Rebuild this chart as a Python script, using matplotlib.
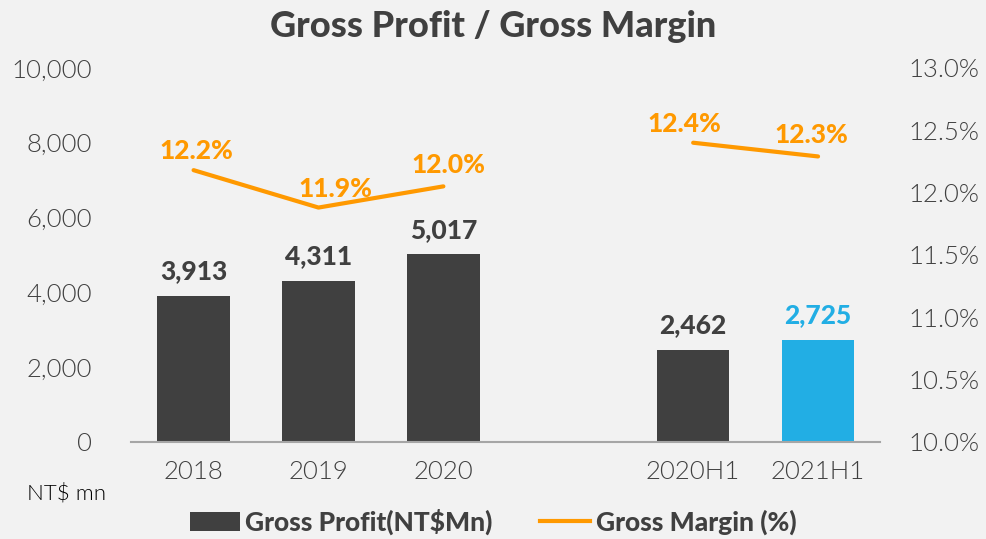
import numpy as np
import matplotlib
matplotlib.use('Agg')
from matplotlib import pyplot as plt
from matplotlib.lines import Line2D
from matplotlib.patches import Patch

# 資料
categories = ['2018', '2019', '2020', '2020H1', '2021H1']
positions = [0, 1, 2, 4, 5]
gross_profit = [3913, 4311, 5017, 2462, 2725]
gross_margin = [12.18, 11.88, 12.05, 12.40, 12.29]
margin_labels = ['12.2%', '11.9%', '12.0%', '12.4%', '12.3%']
left_ticks = [0, 2000, 4000, 6000, 8000, 10000]
right_ticks = [10.0, 10.5, 11.0, 11.5, 12.0, 12.5, 13.0]

plt.rcParams['font.family'] = ['Lato', 'DejaVu Sans']
bg = '#f2f2f2'
dark = '#404040'
blue = '#22aee4'
orange = '#ff9900'
heavy = 900

fig = plt.figure(figsize=(9.86, 5.39), dpi=100, facecolor=bg)
ax = fig.add_axes([0.133, 0.180, 0.760, 0.694], facecolor=bg)
ax2 = ax.twinx()

bar_colors = [dark, dark, dark, dark, blue]
ax.bar(positions, gross_profit, width=0.58, color=bar_colors, zorder=2)
for x, v, c in zip(positions, gross_profit, bar_colors):
    ax.annotate(f'{v:,}', (x, v), xytext=(0, 9), textcoords='offset points',
                ha='center', va='bottom', fontsize=19, fontweight=heavy, color=c)

ax.set_xlim(-0.5, 5.5)
ax.set_ylim(0, 10000)
ax.set_yticks(left_ticks)
ax.set_yticklabels([f'{t:,}' for t in left_ticks])
ax.set_xticks(positions)
ax.set_xticklabels(categories)
ax.tick_params(axis='both', length=0, labelsize=18.5, colors=dark)
ax.tick_params(axis='x', pad=13)
ax.tick_params(axis='y', pad=28)
for lab in ax.get_xticklabels() + ax.get_yticklabels():
    lab.set_fontweight(300)
for s in ['top', 'right', 'left']:
    ax.spines[s].set_visible(False)
ax.spines['bottom'].set_color('#a6a6a6')
ax.spines['bottom'].set_linewidth(1.5)

# 毛利率 (兩段分開)
ax2.plot(positions[:3], gross_margin[:3], color=orange, lw=3, solid_capstyle='round', zorder=3)
ax2.plot(positions[3:], gross_margin[3:], color=orange, lw=3, solid_capstyle='round', zorder=3)
offsets = [(2, 5), (12, 5), (4, 7), (-6, 5), (-5, 7)]
for x, v, lab, off in zip(positions, gross_margin, margin_labels, offsets):
    ax2.annotate(lab, (x, v), xytext=off, textcoords='offset points',
                 ha='center', va='bottom', fontsize=19, fontweight=heavy, color=orange)
ax2.set_ylim(10.0, 13.0)
ax2.set_yticks(right_ticks)
ax2.set_yticklabels([f'{t:.1f}%' for t in right_ticks])
ax2.tick_params(axis='y', length=0, labelsize=18.5, colors=dark, pad=20)
for lab in ax2.get_yticklabels():
    lab.set_fontweight(300)
for s in ax2.spines.values():
    s.set_visible(False)

fig.text(0.5, 0.95, 'Gross Profit / Gross Margin', ha='center', va='center',
         fontsize=26, fontweight=heavy, color=dark)
fig.text(0.067, 0.085, 'NT$ mn', ha='center', va='center', fontsize=16,
         fontweight=300, color='black')

handles = [Patch(facecolor=dark, edgecolor='none'),
           Line2D([0], [0], color=orange, lw=3)]
leg = fig.legend(handles, ['Gross Profit(NT$Mn)', 'Gross Margin (%)'], loc='center',
                 bbox_to_anchor=(0.5, 0.032), ncol=2, frameon=False,
                 prop={'size': 19, 'weight': heavy}, handlelength=1.9,
                 handletextpad=0.2, columnspacing=1.8, labelcolor=dark)

fig.savefig('out.png', dpi=100, facecolor=bg)
